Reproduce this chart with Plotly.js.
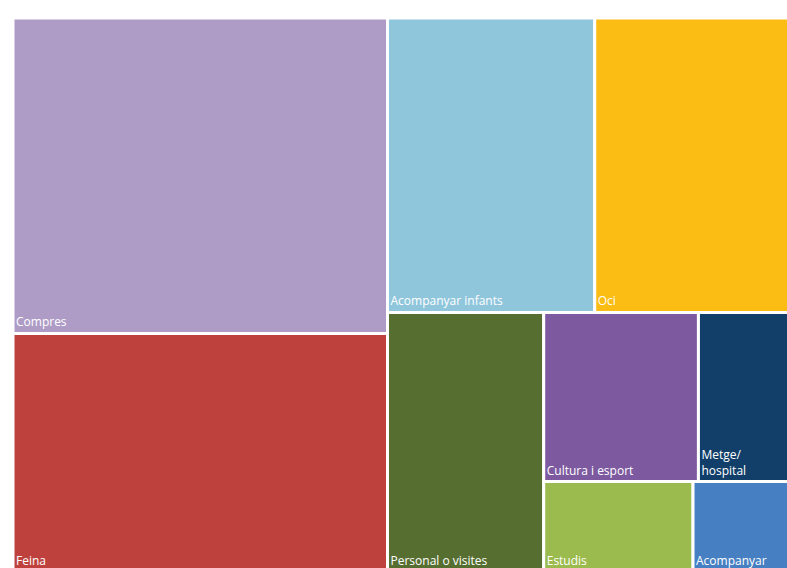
<!DOCTYPE html>
<html>
<head>
<meta charset="utf-8">
<script src="https://cdn.plot.ly/plotly-3.0.1.min.js"></script>
<style>
html, body { margin: 0; padding: 0; overflow: hidden; background: #ffffff; }
#chart { width: 812px; height: 590px; }
</style>
</head>
<body>
<div id="chart"></div>
<script>
// Shares of trips by purpose (%), read from the tile areas
const categories = ["Compres", "Feina", "Acompanyar infants", "Oci", "Personal o visites",
                    "Cultura i esport", "Metge/<br>hospital", "Estudis", "Acompanyar"];
const values = [27.1, 20.5, 14.0, 13.8, 9.3, 6.0, 3.9, 3.1, 2.2];
const parents = categories.map(() => "");
const colors = ["#AE9CC6", "#BE413E", "#8FC6DC", "#FBBC14", "#566E30",
                "#7D5A9F", "#113F6A", "#9BBB4E", "#4680C2"];

const trace = {
  type: "treemap",
  labels: categories,
  parents: parents,
  values: values,
  sort: true,
  textinfo: "label",
  textposition: "bottom left",
  textfont: { family: "Open Sans, sans-serif", size: 12, color: "#ffffff" },
  marker: {
    colors: colors,
    line: { width: 3, color: "#ffffff" },
    pad: { t: 0, l: 0, r: 0, b: 0 }
  },
  tiling: { packing: "squarify", squarifyratio: 1, pad: 0 },
  pathbar: { visible: false },
  hoverinfo: "none"
};

const layout = {
  width: 812,
  height: 590,
  margin: { l: 13, r: 13, t: 18, b: 18 },
  paper_bgcolor: "#ffffff",
  showlegend: false
};

Plotly.newPlot("chart", [trace], layout, { displayModeBar: false, staticPlot: true });
</script>
</body>
</html>
